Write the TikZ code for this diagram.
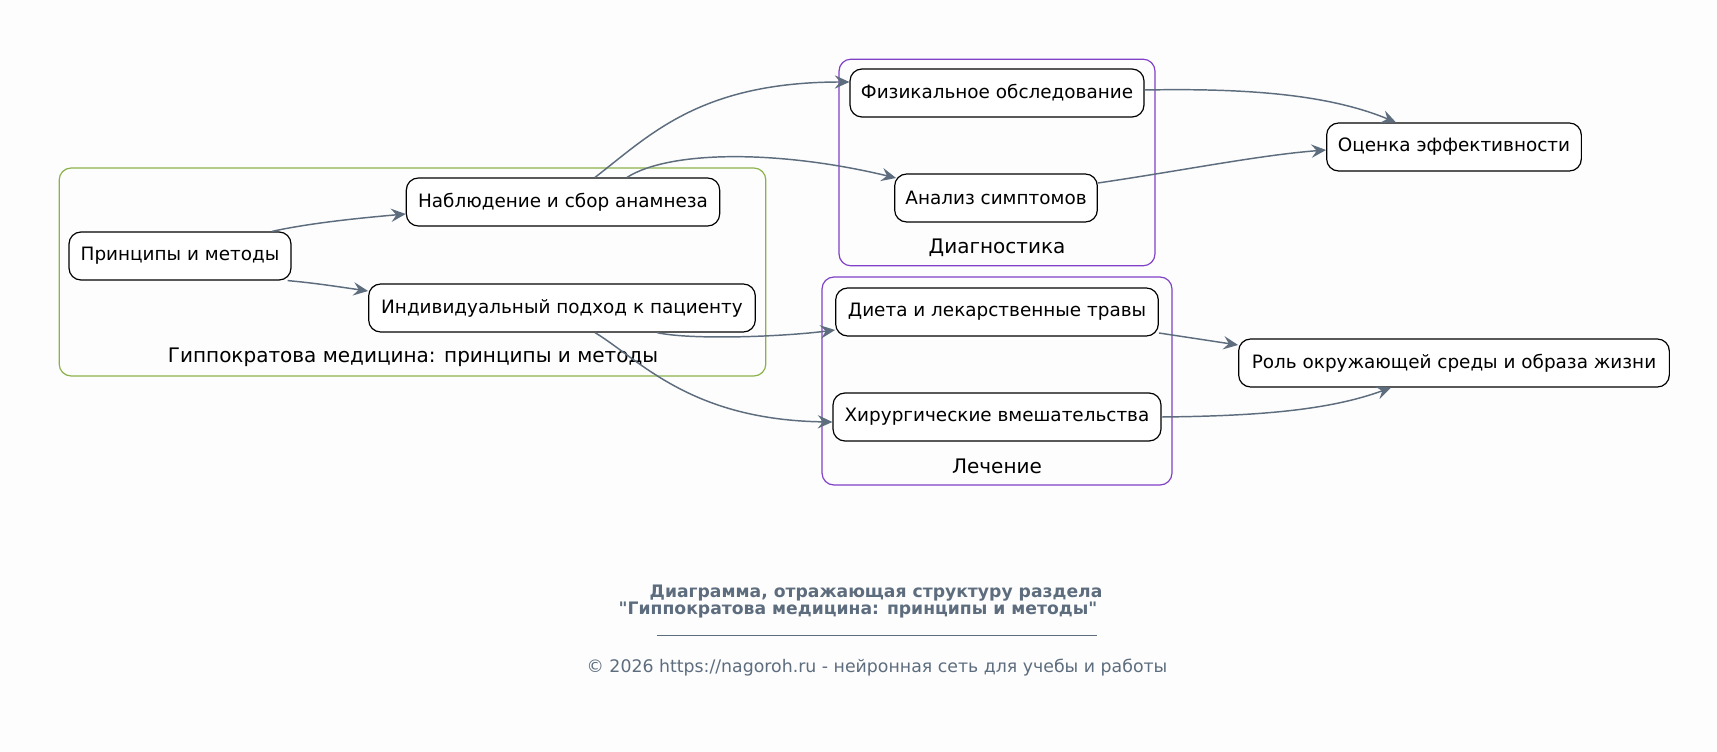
\documentclass[tikz,border=0pt]{standalone}
\usepackage{fontspec}
\setmainfont{DejaVu Sans}
\newfontfamily\capfont{DejaVu Sans}
\usetikzlibrary{arrows.meta,calc}
\definecolor{edgec}{RGB}{93,109,126}
\definecolor{greenc}{RGB}{138,178,72}
\definecolor{purplec}{RGB}{128,64,200}
\definecolor{bgc}{RGB}{253,253,253}
\tikzset{
  box/.style={draw=black, line width=0.9pt, rounded corners=9pt, fill=white,
    minimum height=36pt, inner xsep=6pt, font=\fontsize{13.8pt}{16pt}\selectfont},
  clus/.style={line width=0.9pt, rounded corners=9pt},
  clab/.style={font=\fontsize{15pt}{18pt}\selectfont},
  conn/.style={draw=edgec, line width=1.1pt, -{Stealth[length=11pt,width=10pt,inset=4pt]}},
  capt/.style={text=edgec, font=\capfont\fontsize{12.9pt}{15pt}\selectfont\bfseries},
}
\begin{document}
\begin{tikzpicture}[x=0.75pt,y=-0.75pt]
\fill[bgc] (0,0) rectangle (1717,752);
\useasboundingbox (0,0) rectangle (1717,752);
% clusters
\node[clus, draw=greenc, minimum width=530pt, minimum height=156pt] (c1) at (412.5,272) {};
\node[clus, draw=purplec, minimum width=237pt, minimum height=155pt] (c2) at (997,162.5) {};
\node[clus, draw=purplec, minimum width=262.5pt, minimum height=156pt] (c3) at (997,381) {};
\node[clab] (l1) at (413,357) {Гиппократова медицина: принципы и методы};
\node[clab] (l2) at (997,248) {Диагностика};
\node[clab] (l3) at (997,466) {Лечение};
% nodes
\node[box, minimum width=166.5pt] (p) at (180,256) {Принципы и методы};
\node[box, minimum width=235pt] (nb) at (563,202) {Наблюдение и сбор анамнеза};
\node[box, minimum width=290pt] (ind) at (562,308) {Индивидуальный подход к пациенту};
\node[box, minimum width=220.5pt] (f) at (997,93) {Физикальное обследование};
\node[box, minimum width=152pt] (a) at (996,198) {Анализ симптомов};
\node[box, minimum width=242pt] (d) at (997,312) {Диета и лекарственные травы};
\node[box, minimum width=246pt] (h) at (997,417) {Хирургические вмешательства};
\node[box, minimum width=191pt] (o) at (1454,147) {Оценка эффективности};
\node[box, minimum width=323pt] (r) at (1454,363) {Роль окружающей среды и образа жизни};
% edges
\draw[conn] ($(p.north)+(92,0)$) .. controls (310,223) and (360,218) .. ($(nb.west)+(0,12)$);
\draw[conn] ($(p.south east)+(-4,0)$) .. controls (315,283) and (340,287) .. ($(ind.west)+(0,-17)$);
\draw[conn] ($(nb.north)+(32,0)$) .. controls (650,135) and (700,82) .. ($(f.west)+(0,-11)$);
\draw[conn] ($(nb.north)+(64,0)$) .. controls (670,150) and (780,150) .. ($(a.west)+(2,-20)$);
\draw[conn] ($(ind.south)+(95,0)$) .. controls (690,340) and (780,337) .. ($(d.west)+(0,18)$);
\draw[conn] ($(ind.south)+(33,0)$) .. controls (640,360) and (690,420) .. ($(h.west)+(0,5)$);
\draw[conn] ($(f.east)+(0,-3)$) .. controls (1250,88) and (1330,95) .. ($(o.north)+(-58,0)$);
\draw[conn] ($(a.east)+(0,-15)$) .. controls (1180,171) and (1260,155) .. ($(o.west)+(0,3)$);
\draw[conn] ($(d.east)+(0,21)$) -- ($(r.west)+(0,-18)$);
\draw[conn] (h.east) .. controls (1260,416) and (1330,410) .. ($(r.south)+(-63,0)$);
% caption
\node[capt] (t1) at (876,593) {Диаграмма, отражающая структуру раздела};
\node[capt] (t2) at (858,610) {"Гиппократова медицина: принципы и методы"};
\coordinate (s1) at (657,635);
\coordinate (s2) at (1097,635);
\draw[edgec, line width=0.6pt] (s1) -- (s2);
\node[text=edgec, font=\capfont\fontsize{13pt}{15pt}\selectfont] (cp) at (877,668) {© 2026 https://nagoroh.ru - нейронная сеть для учебы и работы};
\end{tikzpicture}
\end{document}
